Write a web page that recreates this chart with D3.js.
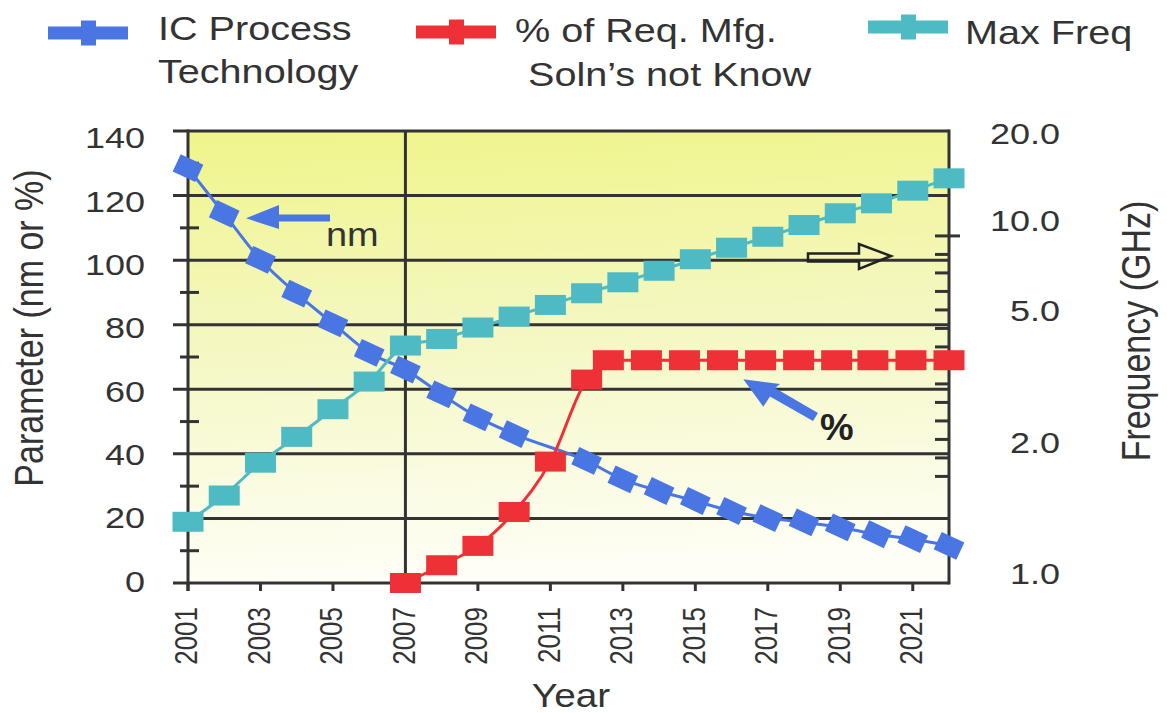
<!DOCTYPE html>
<html><head><meta charset="utf-8">
<script src="https://cdn.jsdelivr.net/npm/d3@7"></script>
<style>body{margin:0;background:#fff}svg{display:block}</style>
</head><body><svg id="c" width="1167" height="713"></svg>
<script>
// ---------- data ----------
const techYears = [2001,2002,2003,2004,2005,2006,2007,2008,2009,2010,2012,2013,2014,2015,2016,2017,2018,2019,2020,2021,2022];
const techNm    = [128.5,114.3,100.1,89.6,80.4,71.3,66.1,58.4,51.3,46.1,37.8,32.1,28.5,25.4,22.3,20.1,18.8,17.2,15.1,13.6,11.5];

const freqYears = [2001,2002,2003,2004,2005,2006,2007,2008,2009,2010,2011,2012,2013,2014,2015,2016,2017,2018,2019,2020,2021,2022];
const freqGHz   = [1.39,1.59,1.84,2.11,2.74,3.37,4.19,4.34,4.60,4.85,5.28,5.93,6.54,7.18,7.82,8.46,9.07,9.72,10.77,11.92,13.37,14.79];

const pctYears  = [2007,2008,2009,2010,2011,2012,2012.6,2013.65,2014.7,2015.75,2016.8,2017.85,2018.9,2019.9,2020.95,2022];
const pctValues = [0,5.5,11.5,22,37.6,63,69,69,69,69,69,69,69,69,69,69];

const leftTicks = [0,20,40,60,80,100,120,140];
const leftMinorTicks = [10,30,50,70,90,110,130];
const yearTicks = [2001,2003,2005,2007,2009,2011,2013,2015,2017,2019,2021];
const freqTicks = [1,2,5,10,20];
const freqTickLabels = ["1.0","2.0","5.0","10.0","20.0"];

const seriesNames = ["IC Process|Technology", "% of Req. Mfg.|Soln\u2019s not Know", "Max Freq"];
const colors = {blue:"#4a76e3", red:"#ee3136", teal:"#4ebac4", ink:"#333333"};

// ---------- setup ----------
const svg = d3.select("#c");
const FONT = "'Liberation Sans', Arial, Helvetica, sans-serif";
const SX = 1.2; // horizontal stretch of the reference lettering
const L = 188, R = 949, T = 131, B = 583;

const x  = d3.scaleLinear().domain([2001, 2022]).range([L, R]);
const yL = d3.scaleLinear().domain([0, 140]).range([B, T]);
const yLab = d3.scaleLinear().domain([0, 140]).range([581, 137.5]);
const yR = d3.scaleLinear().domain(freqTicks).range([573, 441.7, 310, 220, 133]);

function stext(g, px, py, str, o) {
  o = o || {};
  const size = o.size || 30;
  const grp = g.append("g").attr("transform",
    `translate(${px},${py}) scale(${o.sx || SX},1)` + (o.rot ? ` rotate(${o.rot})` : ""));
  return grp.append("text")
    .attr("x", 0).attr("y", 0)
    .attr("text-anchor", o.anchor || "start")
    .attr("font-family", FONT)
    .attr("font-size", size)
    .attr("font-weight", o.weight || "normal")
    .attr("fill", o.fill || colors.ink)
    .text(str);
}

// ---------- background ----------
const defs = svg.append("defs");
const grad = defs.append("linearGradient").attr("id", "bg")
  .attr("x1", 0).attr("y1", 0).attr("x2", 0.08).attr("y2", 1);
grad.append("stop").attr("offset", "0%").attr("stop-color", "#eff58a");
grad.append("stop").attr("offset", "45%").attr("stop-color", "#f4f7bf");
grad.append("stop").attr("offset", "100%").attr("stop-color", "#fefef6");
svg.append("rect").attr("x", L).attr("y", T).attr("width", R - L).attr("height", B - T)
  .attr("fill", "url(#bg)");

// ---------- grid + axes ----------
const frame = svg.append("g").attr("stroke", colors.ink).attr("stroke-width", 3).attr("fill", "none");
// horizontal major gridlines (with outward tick)
frame.selectAll("line.h").data(leftTicks).join("line")
  .attr("x1", L - 15).attr("x2", R)
  .attr("y1", d => yL(d)).attr("y2", d => yL(d));
// left minor ticks crossing the axis
frame.selectAll("line.m").data(leftMinorTicks).join("line")
  .attr("x1", L - 8).attr("x2", L + 11)
  .attr("y1", d => yL(d)).attr("y2", d => yL(d));
// axis verticals
frame.append("line").attr("x1", L).attr("x2", L).attr("y1", T - 1.5).attr("y2", B + 8);
frame.append("line").attr("x1", R).attr("x2", R).attr("y1", T - 1.5).attr("y2", B + 1.5);
frame.append("line").attr("x1", x(2007)).attr("x2", x(2007)).attr("y1", T).attr("y2", B);
// bottom ticks
frame.selectAll("line.b").data(yearTicks).join("line")
  .attr("x1", d => x(d)).attr("x2", d => x(d))
  .attr("y1", B).attr("y2", B + 8);
// right axis ticks (major at 10 GHz, evenly spaced minor ticks below it)
const rMajorY = yL(107.5);
frame.append("line").attr("x1", R).attr("x2", R + 11).attr("y1", rMajorY).attr("y2", rMajorY);
frame.selectAll("line.r").data(d3.range(0, 14)).join("line")
  .attr("x1", R - 14).attr("x2", R)
  .attr("y1", i => yL(107.5 - i * 5.73)).attr("y2", i => yL(107.5 - i * 5.73));

// tick labels
const labels = svg.append("g");
leftTicks.forEach(v => stext(labels, 145, yLab(v) + 10.8, String(v), {anchor: "end", size: 30}));
freqTicks.forEach((v, i) => stext(labels, 1060, yR(v) + 10.8, freqTickLabels[i], {anchor: "end", size: 30}));
yearTicks.forEach(v => {
  stext(labels, x(v) + 9.4, 607, String(v), {anchor: "end", size: 26, rot: -90});
});

// axis titles
stext(labels, 42.5, 328, "Parameter (nm or %)", {anchor: "middle", size: 34, rot: -90});
stext(labels, 1150, 331, "Frequency (GHz)", {anchor: "middle", size: 34, rot: -90});
stext(labels, 571, 707, "Year", {anchor: "middle", size: 34, sx: 1.14});

// ---------- series ----------
const line = d3.line().curve(d3.curveMonotoneX);

const techPts = techYears.map((yr, i) => [x(yr), yL(techNm[i])]);
const freqPts = freqYears.map((yr, i) => [x(yr), yR(freqGHz[i])]);
const pctPts  = pctYears.map((yr, i) => [x(yr), yL(pctValues[i])]);

svg.append("path").attr("d", line(techPts)).attr("fill", "none")
  .attr("stroke", colors.blue).attr("stroke-width", 3);
svg.append("g").selectAll("rect").data(techPts).join("rect")
  .attr("x", -12.5).attr("y", -9.5).attr("width", 25).attr("height", 19)
  .attr("transform", d => `translate(${d[0]},${d[1]}) rotate(25)`)
  .attr("fill", colors.blue);

svg.append("path").attr("d", line(freqPts)).attr("fill", "none")
  .attr("stroke", colors.teal).attr("stroke-width", 3);
svg.append("g").selectAll("rect").data(freqPts).join("rect")
  .attr("x", d => d[0] - 15.5).attr("y", d => d[1] - 10).attr("width", 31).attr("height", 20)
  .attr("fill", colors.teal);

svg.append("path").attr("d", line(pctPts)).attr("fill", "none")
  .attr("stroke", colors.red).attr("stroke-width", 3);
svg.append("g").selectAll("rect").data(pctPts).join("rect")
  .attr("x", d => d[0] - 15.5).attr("y", d => d[1] - 10).attr("width", 31).attr("height", 20)
  .attr("fill", colors.red);

// ---------- annotations ----------
const ann = svg.append("g");
// "nm" arrow (pointing left)
ann.append("path")
  .attr("d", "M330,214.5 L279,214.5 L279,205 L246,218.3 L279,229 L279,221.5 L330,221.5 Z")
  .attr("fill", colors.blue);
stext(ann, 326, 246, "nm", {size: 33, sx: 1.15});
// hollow black arrow (pointing right, toward the frequency axis)
ann.append("path")
  .attr("d", "M808,253.5 L859,253.5 L859,244 L891,256 L859,269 L859,261.5 L808,261.5 Z")
  .attr("fill", "none").attr("stroke", "#222").attr("stroke-width", 2.5);
// "%" arrow (pointing up-left)
ann.append("path")
  .attr("d", "M743.3,379.3 L780,384 L775,388 L818,413 L813,421 L770,396.5 L763.3,406.7 Z")
  .attr("fill", colors.blue);
stext(ann, 820, 440, "%", {size: 36, weight: "bold", sx: 1.05, fill: "#222"});

// ---------- legend ----------
const leg = svg.append("g");
const legendItems = [
  {name: seriesNames[0], color: colors.blue, bx: 48, by: 33, tx: 158, ty: [40, 83]},
  {name: seriesNames[1], color: colors.red,  bx: 416, by: 32, tx: [515, 528], ty: [42, 86]},
  {name: seriesNames[2], color: colors.teal, bx: 868, by: 27, tx: 965, ty: [44]}
];
legendItems.forEach(it => {
  leg.append("rect").attr("x", it.bx).attr("y", it.by - 6.5).attr("width", 80).attr("height", 13).attr("fill", it.color);
  leg.append("rect").attr("x", it.bx + 33).attr("y", it.by - 12.5).attr("width", 15).attr("height", 25).attr("fill", it.color);
  it.name.split("|").forEach((ln, j) => {
    const tx = Array.isArray(it.tx) ? it.tx[j] : it.tx;
    stext(leg, tx, it.ty[j], ln, {size: 33});
  });
});
</script>
</body></html>
